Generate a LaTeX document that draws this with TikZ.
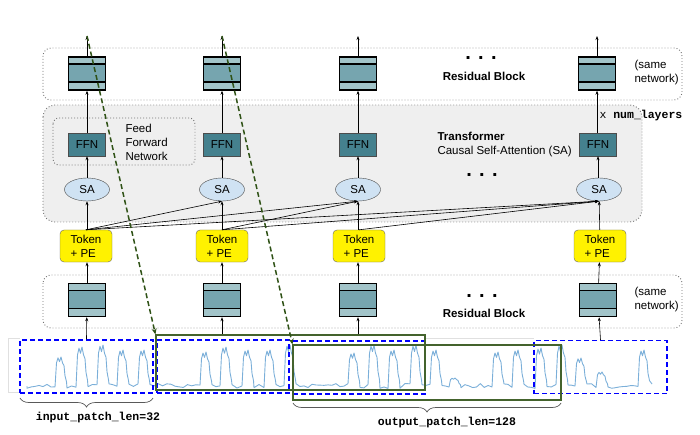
\documentclass[tikz,border=0pt]{standalone}
\usepackage{fontspec}
\setmainfont{Liberation Sans}
\setmonofont{Liberation Mono}
\usetikzlibrary{arrows.meta,shapes.geometric,decorations.pathreplacing}
\definecolor{rlight}{HTML}{A2C4C9}
\definecolor{rmid}{HTML}{76A5AF}
\definecolor{ffnteal}{HTML}{45818E}
\definecolor{salight}{HTML}{CFE2F3}
\definecolor{tfgray}{HTML}{EFEFEF}
\definecolor{dgreen}{HTML}{2F5216}
\definecolor{tsblue}{HTML}{7BAFD9}

\begin{document}
\begin{tikzpicture}[
    x=1pt, y=-1pt,
    font=\fontsize{11.5}{14}\selectfont,
    >={Stealth[length=4pt,width=3pt]},
    resblock/.style={draw,
        line width=1.4pt,
        fill=rmid,
        minimum width=37pt,
        minimum height=33pt,
        path picture={
            \fill[rlight] ([yshift=-7pt]path picture bounding box.north west) rectangle (path picture bounding box.north east);
            \fill[rlight] ([yshift=8pt]path picture bounding box.south west) rectangle (path picture bounding box.south east);
            \draw[line width=1.4pt] ([yshift=-7pt]path picture bounding box.north west) -- ([yshift=-7pt]path picture bounding box.north east);
            \draw[line width=1.4pt] ([yshift=8pt]path picture bounding box.south west) -- ([yshift=8pt]path picture bounding box.south east);}},
    ffn/.style={draw=black!70, fill=ffnteal, minimum width=37pt, minimum height=23pt, inner sep=0pt},
    sa/.style={ellipse, draw=black!70, fill=salight, minimum width=45pt, minimum height=23pt, inner sep=0pt},
    token/.style={draw=black!60, fill=yellow, rounded corners=4pt, align=left,
        minimum width=52pt, minimum height=32pt, inner sep=0pt},
    groupbox/.style={draw=black!55, line width=0.9pt, dash pattern=on 0.9pt off 2.1pt},
    inpatch/.style={draw=blue, line width=1.5pt, dash pattern=on 5pt off 3pt,
        minimum height=53pt, inner sep=0pt},
    outpatch/.style={draw=dgreen!90, line width=1.1pt, minimum height=55pt, inner sep=0pt},
    gdash/.style={dgreen, line width=1.5pt, dash pattern=on 5pt off 3pt},
    series/.style={tsblue, line width=0.9pt, line join=round},
    brace/.style={black!65, line width=0.7pt, decorate, decoration={brace, amplitude=9pt, mirror}},
    ellip/.style={font=\fontsize{20}{20}\selectfont\bfseries, inner sep=0pt},
    lbl/.style={font=\fontsize{11.5}{14}\selectfont\ttfamily\bfseries}]

\useasboundingbox (0,0) rectangle (700,435);

% Transformer background
\fill[tfgray, rounded corners=12pt] (43,105) rectangle (642,222);
\draw[groupbox, rounded corners=12pt] (43,105) rectangle (642,222);
\draw[groupbox, rounded corners=6pt] (53,118) rectangle (195,165);

% Residual block groups
\draw[groupbox, rounded corners=8pt] (43,48) rectangle (682,100);
\draw[groupbox, rounded corners=8pt] (43,275) rectangle (682,328);

% Time series
\pgfmathsetseed{11}
\draw[black!12] (20,338) -- (8,338) -- (8,392) -- (20,392);
\draw[black!12] (425,338) -- (534,338);
\draw[series] (27,386)
  \foreach \p/\s/\n/\t in {27/55/7/357, 67/76/2/347, 88/97/2/345, 109/117/2/350, 129/138/2/350,
      150/200/12/352, 212/220/2/347, 232/242/2/350, 254/264/2/350, 276/284/2/345,
      296/348/13/353, 360/368/2/345, 380/388/2/350, 400/410/2/345, 422/430/2/350, 442/449/2/378,
      461/492/8/352, 504/512/2/350, 524/535/3/348, 547/556/2/345, 568/575/2/358, 587/596/2/372,
      608/638/8/350} {
    \foreach \k in {0,...,\n} { -- ({\p+\k*(\s-\p)/\n},{386+5*rnd-2.5}) }
    -- ({\s+1.5},{386-0.8*(386-\t)}) -- ({\s+3},{386-0.97*(386-\t)})
    -- ({\s+4.5},{386-0.84*(386-\t)}) -- ({\s+6},{\t})
    -- ({\s+7.5},{386-0.8*(386-\t)}) -- ({\s+9},{386-0.7*(386-\t)})
    -- ({\s+10},{386-0.35*(386-\t)}) -- ({\s+11.5},{386-0.15*(386-\t)})
  }
  -- (652,384);

% Input patches
\node[inpatch, minimum width=133pt] (in1) at (86.5,366.5) {};
\node[inpatch, minimum width=132pt] (in2) at (223,366.5) {};
\node[inpatch, minimum width=132pt] (in3) at (359,367.5) {};
\node[inpatch, minimum width=133pt] (in4) at (600.5,367) {};

% Output patches
\node[outpatch, minimum width=269pt] (out1) at (290.5,362.5) {};
\node[outpatch, minimum width=268pt] (out2) at (427,372.5) {};

% Braces
\draw[brace] (20,398) -- (153,398);
\draw[brace] (293,403) -- (561,403);
\node[lbl] (inlen) at (98,418) {input\_patch\_len=32};
\node[lbl] (outlen) at (447,423) {output\_patch\_len=128};

% Bottom residual blocks
\node[resblock] (rb1) at (87,300) {};
\node[resblock] (rb2) at (222,300) {};
\node[resblock] (rb3) at (358,300) {};
\node[resblock] (rb4) at (598,300) {};
\node[ellip] (rbdots) at (482,296) {. . .};
\node[font=\fontsize{11.5}{14}\selectfont\bfseries] (rblbl) at (484,313) {Residual Block};
\node[align=left, anchor=west] (rbsame) at (631,300) {(same\\network)};

% Tokens
\node[token] (tok1) at (86,246) {Token\\+ PE};
\node[token] (tok2) at (222,246) {Token\\+ PE};
\node[token] (tok3) at (359,246) {Token\\+ PE};
\node[token] (tok4) at (600,246) {Token\\+ PE};

% Self-attention
\node[sa] (sa1) at (87,189.5) {SA};
\node[sa] (sa2) at (222,189.5) {SA};
\node[sa] (sa3) at (358,189.5) {SA};
\node[sa] (sa4) at (599,189.5) {SA};
\node[ellip] (sadots) at (482,175) {. . .};

% FFN
\node[ffn] (ffn1) at (87,144.5) {FFN};
\node[ffn] (ffn2) at (222,144.5) {FFN};
\node[ffn] (ffn3) at (358,144.5) {FFN};
\node[ffn] (ffn4) at (598,144.5) {FFN};
\node[align=left, anchor=west] (fftext) at (122,142) {Feed\\Forward\\Network};
\node[align=left, anchor=west] (tftext) at (434,145) {\textbf{Transformer}\\Causal Self-Attention (SA)};
\node[anchor=west, font=\fontsize{11.5}{14}\selectfont\ttfamily] (nlayers) at (596,116) {x \textbf{num\_layers}};

% Top residual blocks
\node[resblock] (rt1) at (87,73.5) {};
\node[resblock] (rt2) at (222,73.5) {};
\node[resblock] (rt3) at (358,73.5) {};
\node[resblock] (rt4) at (597,73.5) {};
\node[ellip] (rtdots) at (481,58) {. . .};
\node[font=\fontsize{11.5}{14}\selectfont\bfseries] (rtlbl) at (484,76) {Residual Block};
\node[align=left, anchor=west] (rtsame) at (631,73) {(same\\network)};

\coordinate (o1) at (87,36);
\coordinate (o2) at (222,36);
\coordinate (o3) at (358,36);
\coordinate (o4) at (597,36);

% Arrows
\draw[->, line width=0.6pt] (in1.north) -- (rb1);
\draw[->, line width=0.6pt] (out1.north -| rb2) -- (rb2);
\draw[->, line width=0.6pt] (out1.north -| rb3) -- (rb3);
\draw[->, line width=0.6pt] (in4.north) -- (rb4);
\draw[->, line width=0.6pt] (rb1) -- (tok1.south -| rb1);
\draw[->, line width=0.6pt] (rb2) -- (tok2);
\draw[->, line width=0.6pt] (rb3) -- (tok3.south -| rb3);
\draw[->, line width=0.6pt] (rb4) -- (tok4);
\draw[->, line width=0.6pt] (tok1.north -| sa1) -- (sa1);
\draw[->, line width=0.6pt] (tok2) -- (sa2);
\draw[->, line width=0.6pt] (tok3.north -| sa3) -- (sa3);
\draw[->, line width=0.6pt] (tok4) -- (sa4);
\draw[->, line width=0.6pt] (tok1.north) -- (sa2.south);
\draw[->, line width=0.6pt] (tok1.north) -- (sa3.south);
\draw[->, line width=0.6pt] (tok1.north) -- (sa4.south);
\draw[->, line width=0.6pt] (tok2.north) -- (sa3.south);
\draw[->, line width=0.6pt] (tok2.north) -- (sa4.south);
\draw[->, line width=0.6pt] (tok3.north) -- (sa4.south);
\draw[->, line width=0.6pt] (sa1) -- (ffn1);
\draw[->, line width=0.6pt] (sa2) -- (ffn2);
\draw[->, line width=0.6pt] (sa3) -- (ffn3);
\draw[->, line width=0.6pt] (sa4.north -| ffn4) -- (ffn4);
\draw[->, line width=0.6pt] (ffn1) -- (rt1);
\draw[->, line width=0.6pt] (ffn2) -- (rt2);
\draw[->, line width=0.6pt] (ffn3) -- (rt3);
\draw[->, line width=0.6pt] (ffn4.north -| rt4) -- (rt4);
\draw[->, line width=0.6pt] (rt1) -- (o1);
\draw[->, line width=0.6pt] (rt2) -- (o2);
\draw[->, line width=0.6pt] (rt3) -- (o3);
\draw[->, line width=0.6pt] (rt4) -- (o4);

% Output shifted by one patch
\draw[gdash, -{Stealth[length=6pt,width=5pt]}] (o1) -- (out1.north west);
\draw[gdash, -{Stealth[length=6pt,width=5pt]}] (o2) -- (out2.north west);

\end{tikzpicture}
\end{document}
